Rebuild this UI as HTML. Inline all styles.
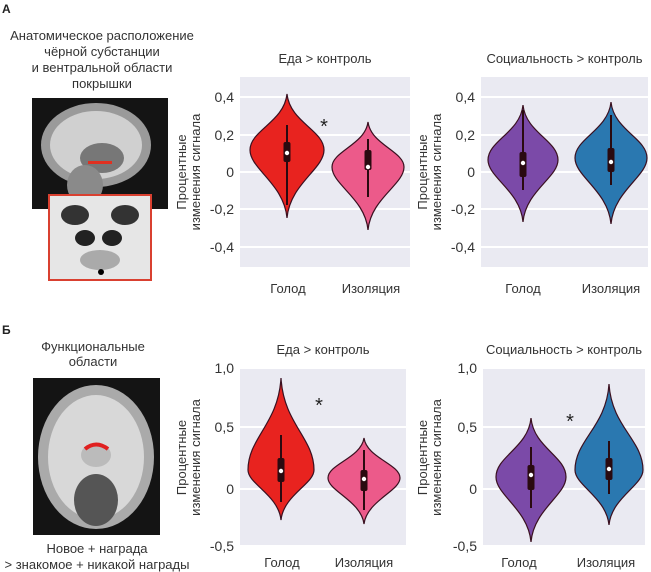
<!DOCTYPE html>
<html><head><meta charset="utf-8"><style>
body{margin:0;background:#fff;}
svg{display:block;font-family:"Liberation Sans","Noto Sans CJK SC",sans-serif;}
</style></head><body>
<svg id="s" width="651" height="572" viewBox="0 0 651 572">
<rect width="651" height="572" fill="#fff"/>
<text x="2" y="13" font-size="12" font-weight="bold" fill="#222">А</text>
<text x="2" y="334" font-size="12" font-weight="bold" fill="#222">Б</text>
<g font-size="13" fill="#333" text-anchor="middle">
<text x="102" y="40">Анатомическое расположение</text>
<text x="102" y="56">чёрной субстанции</text>
<text x="102" y="72">и вентральной области</text>
<text x="102" y="88">покрышки</text>
<text x="93" y="351">Функциональные</text>
<text x="93" y="366">области</text>
<text x="97" y="553">Новое + награда</text>
<text x="97" y="569">&gt; знакомое + никакой награды</text>
</g>
<rect x="32" y="98" width="136" height="111" fill="#141414"/>
<ellipse cx="96" cy="145" rx="55" ry="42" fill="#9a9a9a"/>
<ellipse cx="96" cy="145" rx="46" ry="34" fill="#d0d0d0"/>
<ellipse cx="102" cy="158" rx="22" ry="15" fill="#777"/>
<ellipse cx="85" cy="185" rx="18" ry="20" fill="#8a8a8a"/>
<rect x="88" y="161" width="24" height="3" fill="#e03020"/>
<rect x="49" y="195" width="102" height="85" fill="#e6e6e6" stroke="#d94030" stroke-width="2"/>
<ellipse cx="75" cy="215" rx="14" ry="10" fill="#333"/>
<ellipse cx="125" cy="215" rx="14" ry="10" fill="#333"/>
<ellipse cx="85" cy="238" rx="10" ry="8" fill="#222"/>
<ellipse cx="112" cy="238" rx="10" ry="8" fill="#222"/>
<ellipse cx="100" cy="260" rx="20" ry="10" fill="#aaa"/>
<circle cx="101" cy="272" r="3" fill="#000"/>
<rect x="33" y="378" width="127" height="157" fill="#141414"/>
<ellipse cx="96" cy="457" rx="58" ry="72" fill="#aaa"/>
<ellipse cx="96" cy="457" rx="48" ry="62" fill="#d8d8d8"/>
<ellipse cx="96" cy="500" rx="22" ry="26" fill="#555"/>
<ellipse cx="96" cy="455" rx="15" ry="12" fill="#bbb"/>
<path d="M85 449 Q96 440 108 449" stroke="#e02020" stroke-width="4" fill="none"/>
<g id="charts"></g>
</svg>
<script>
var g=document.getElementById('charts'),h='';
function chart(x0,x1,y0,y1,ticks,title,lx){
 h+='<rect x="'+x0+'" y="'+y0+'" width="'+(x1-x0)+'" height="'+(y1-y0)+'" fill="#eaeaf2"/>';
 ticks.forEach(function(t){h+='<line x1="'+x0+'" x2="'+x1+'" y1="'+t[0]+'" y2="'+t[0]+'" stroke="#fff" stroke-width="2"/>';
 h+='<text x="'+(x0-6)+'" y="'+(t[0]+5)+'" font-size="14" fill="#333" text-anchor="end">'+t[1]+'</text>';});
 h+='<text x="'+((x0+x1)/2)+'" y="'+(y0-14)+'" font-size="13" fill="#333" text-anchor="middle">'+title+'</text>';
 var cy=(y0+y1)/2;
 h+='<text transform="translate('+lx+','+cy+') rotate(-90)" font-size="13" fill="#333" text-anchor="middle">Процентные</text>';
 h+='<text transform="translate('+(lx+14)+','+cy+') rotate(-90)" font-size="13" fill="#333" text-anchor="middle">изменения сигнала</text>';
}
function vio(cx,t,w,b,hw,col,wt,wb,bt,bb,med){
 var u=w-t,l=b-w;
 var d='M'+cx+','+t+' C'+(cx+hw*0.08)+','+(t+u*0.5)+' '+(cx+hw)+','+(w-u*0.35)+' '+(cx+hw)+','+w+
 ' C'+(cx+hw)+','+(w+l*0.28)+' '+(cx+hw*0.08)+','+(w+l*0.5)+' '+cx+','+b+
 ' C'+(cx-hw*0.08)+','+(w+l*0.5)+' '+(cx-hw)+','+(w+l*0.28)+' '+(cx-hw)+','+w+
 ' C'+(cx-hw)+','+(w-u*0.35)+' '+(cx-hw*0.08)+','+(t+u*0.5)+' '+cx+','+t+'Z';
 h+='<path d="'+d+'" fill="'+col+'" stroke="#3a1020" stroke-width="1.2"/>';
 h+='<line x1="'+cx+'" x2="'+cx+'" y1="'+wt+'" y2="'+wb+'" stroke="#2a0a10" stroke-width="2"/>';
 h+='<rect x="'+(cx-3.5)+'" y="'+bt+'" width="7" height="'+(bb-bt)+'" rx="2" fill="#2a0a10"/>';
 h+='<circle cx="'+cx+'" cy="'+med+'" r="2.2" fill="#fff"/>';
}
function xl(a,b,y){h+='<text x="'+a+'" y="'+y+'" font-size="13" fill="#333" text-anchor="middle">Голод</text><text x="'+b+'" y="'+y+'" font-size="13" fill="#333" text-anchor="middle">Изоляция</text>';}
var tA=[[97,'0,4'],[135,'0,2'],[172,'0'],[209,'-0,2'],[247,'-0,4']];
var tB=[[368,'1,0'],[427,'0,5'],[489,'0'],[546,'-0,5']];
chart(240,410,77,267,tA,'Еда &gt; контроль',186);
chart(481,648,77,267,tA,'Социальность &gt; контроль',427);
chart(240,406,368,547,tB,'Еда &gt; контроль',186);
chart(483,645,368,547,tB,'Социальность &gt; контроль',427);
vio(287,94,150,218,37,'#e8231f',125,205,142,162,153);
vio(368,122,167,230,36,'#ec5a8a',139,197,150,170,167);
vio(523,105,160,222,35,'#7b4aa8',110,190,152,177,163);
vio(611,102,158,224,36,'#2a78b0',115,185,148,172,162);
vio(281,378,470,520,33,'#e8231f',435,502,458,482,471);
vio(364,438,478,524,36,'#ec5a8a',450,510,470,491,479);
vio(531,418,477,542,35,'#7b4aa8',447,508,465,490,475);
vio(609,384,470,525,34,'#2a78b0',441,494,458,480,469);
h+='<text x="324" y="133" font-size="20" fill="#222" text-anchor="middle">*</text>';
h+='<text x="319" y="412" font-size="20" fill="#222" text-anchor="middle">*</text>';
h+='<text x="570" y="428" font-size="20" fill="#222" text-anchor="middle">*</text>';
xl(288,371,293);xl(523,611,293);xl(282,364,567);xl(519,606,567);
g.innerHTML=h;
</script>
</body></html>
